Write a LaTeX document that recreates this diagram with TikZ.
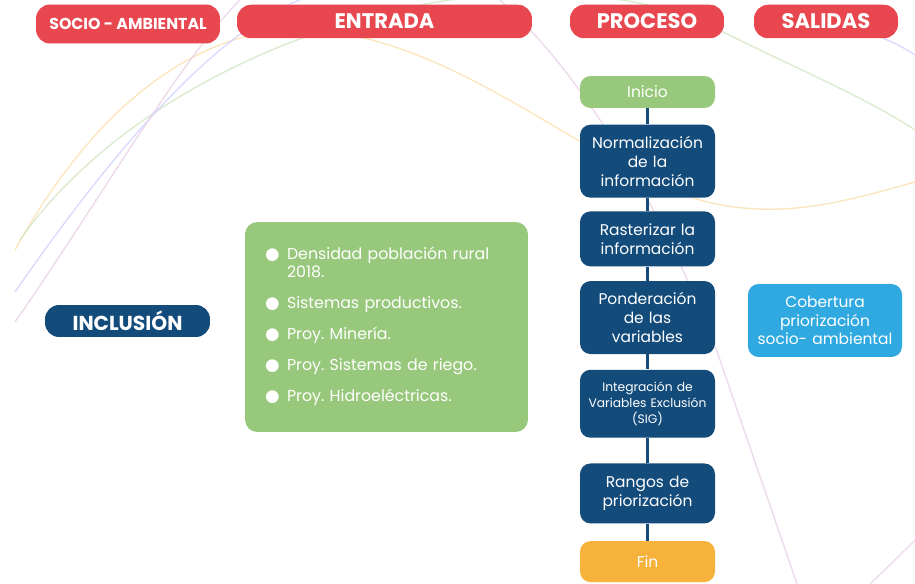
\documentclass[tikz,border=0pt]{standalone}
\usepackage{fontspec}
\setmainfont{Poppins}
\newfontfamily\simbolos{DejaVu Sans}
\usetikzlibrary{positioning}
\frenchspacing

\definecolor{rojo}{HTML}{E8474F}
\definecolor{azul}{HTML}{134B7B}
\definecolor{verde}{HTML}{98C87C}
\definecolor{naranja}{HTML}{F6B23A}
\definecolor{celeste}{HTML}{30A9E0}

\tikzset{
  titulo/.style={fill=rojo, text=white, rounded corners=8pt, inner sep=0pt, minimum height=0.67cm, font=\fontsize{12}{13}\selectfont\bfseries},
  paso/.style={fill=azul, text=white, rounded corners=6pt, inner sep=1pt, minimum width=2.7cm, text width=2.6cm, align=center, font=\fontsize{8.8}{10.7}\selectfont},
  fondo/.style={line width=0.8pt, opacity=0.8},
  enlace/.style={draw=azul, line width=1.2pt}
}
\newcommand{\vineta}[1]{\par\hangindent=0.44cm\hangafter=1\noindent\makebox[0.44cm][l]{\simbolos\fontsize{9.5}{9}\selectfont ●}#1}

\begin{document}
\begin{tikzpicture}[x=0.02cm, y=-0.02cm]
    \useasboundingbox (0,0) rectangle (915,584);

    % lineas de fondo
    \draw[fondo, draw=naranja!40] (15,250) .. controls (120,60) and (250,10) .. (350,35) .. controls (480,60) and (600,170) .. (700,200) .. controls (780,222) and (850,200) .. (915,182);
    \draw[fondo, draw=verde!45] (20,240) .. controls (160,40) and (520,-70) .. (723,32) .. controls (800,70) and (870,100) .. (915,130);
    \draw[fondo, draw=blue!18] (15,292) .. controls (120,140) and (220,30) .. (300,0);
    \draw[fondo, draw=violet!18] (15,322) .. controls (100,200) and (180,60) .. (240,0);
    \draw[fondo, draw=violet!18] (500,0) .. controls (600,90) and (680,250) .. (720,360) -- (797,584);
    \draw[fondo, draw=blue!18] (860,30) .. controls (885,38) and (900,45) .. (915,55);
    \draw[fondo, draw=violet!18] (870,584) .. controls (890,565) and (905,550) .. (915,540);

    % encabezados
    \node[titulo, minimum width=3.68cm, minimum height=0.78cm, font=\fontsize{9}{10}\selectfont\bfseries] (socio) at (128,24) {SOCIO - AMBIENTAL};
    \node[titulo, minimum width=5.9cm] (entrada) at (384.5,21.5) {ENTRADA};
    \node[titulo, minimum width=3.08cm] (proceso) at (647,21.5) {PROCESO};
    \node[titulo, minimum width=2.88cm] (salidas) at (826,21.5) {SALIDAS};

    % entrada
    \node[fill=azul, text=white, rounded corners=8pt, minimum width=3.3cm, minimum height=0.64cm, inner sep=0pt, font=\fontsize{11.5}{12}\selectfont\bfseries] (inclusion) at (127.5,321) {INCLUSIÓN};
    \node[fill=verde, text=white, rounded corners=7pt, minimum width=5.66cm, minimum height=4.2cm, text width=4.86cm, inner sep=0pt, align=left, font=\fontsize{9}{10.2}\selectfont] (variables) at (386.5,327) {%
        \setlength{\parskip}{7.4pt}%
        \vineta{Densidad población rural 2018.}
        \vineta{Sistemas productivos.}
        \vineta{Proy. Minería.}
        \vineta{Proy. Sistemas de riego.}
        \vineta{Proy. Hidroeléctricas.}\par\vspace{0.4cm}};

    % proceso
    \node[paso, fill=verde, minimum height=0.64cm] (inicio) at (647.5,92) {Inicio};
    \node[paso, minimum height=1.46cm] (normal) [below=0.32cm of inicio] {Normalización\\de la\\información};
    \node[paso, minimum height=1.1cm] (raster) [below=0.26cm of normal] {Rasterizar la\\información};
    \node[paso, minimum height=1.46cm] (ponder) [below=0.28cm of raster] {Ponderación\\de las\\variables};
    \node[paso, minimum height=1.36cm, font=\fontsize{7}{9}\selectfont] (integra) [below=0.3cm of ponder] {Integración de\\Variables Exclusión\\(SIG)};
    \node[paso, minimum height=1.2cm] (rangos) [below=0.5cm of integra] {Rangos de\\priorización};
    \node[paso, fill=naranja, minimum height=0.82cm] (fin) [below=0.34cm of rangos] {Fin};

    % salidas
    \node[paso, fill=celeste, minimum width=3.08cm, text width=3cm, minimum height=1.46cm] (cobertura) at (825,320.5) {Cobertura\\priorización\\socio- ambiental};

    \draw[enlace] (inicio) -- (normal);
    \draw[enlace] (normal) -- (raster);
    \draw[enlace] (raster) -- (ponder);
    \draw[enlace] (ponder) -- (integra);
    \draw[enlace] (integra) -- (rangos);
    \draw[enlace] (rangos) -- (fin);
\end{tikzpicture}
\end{document}
